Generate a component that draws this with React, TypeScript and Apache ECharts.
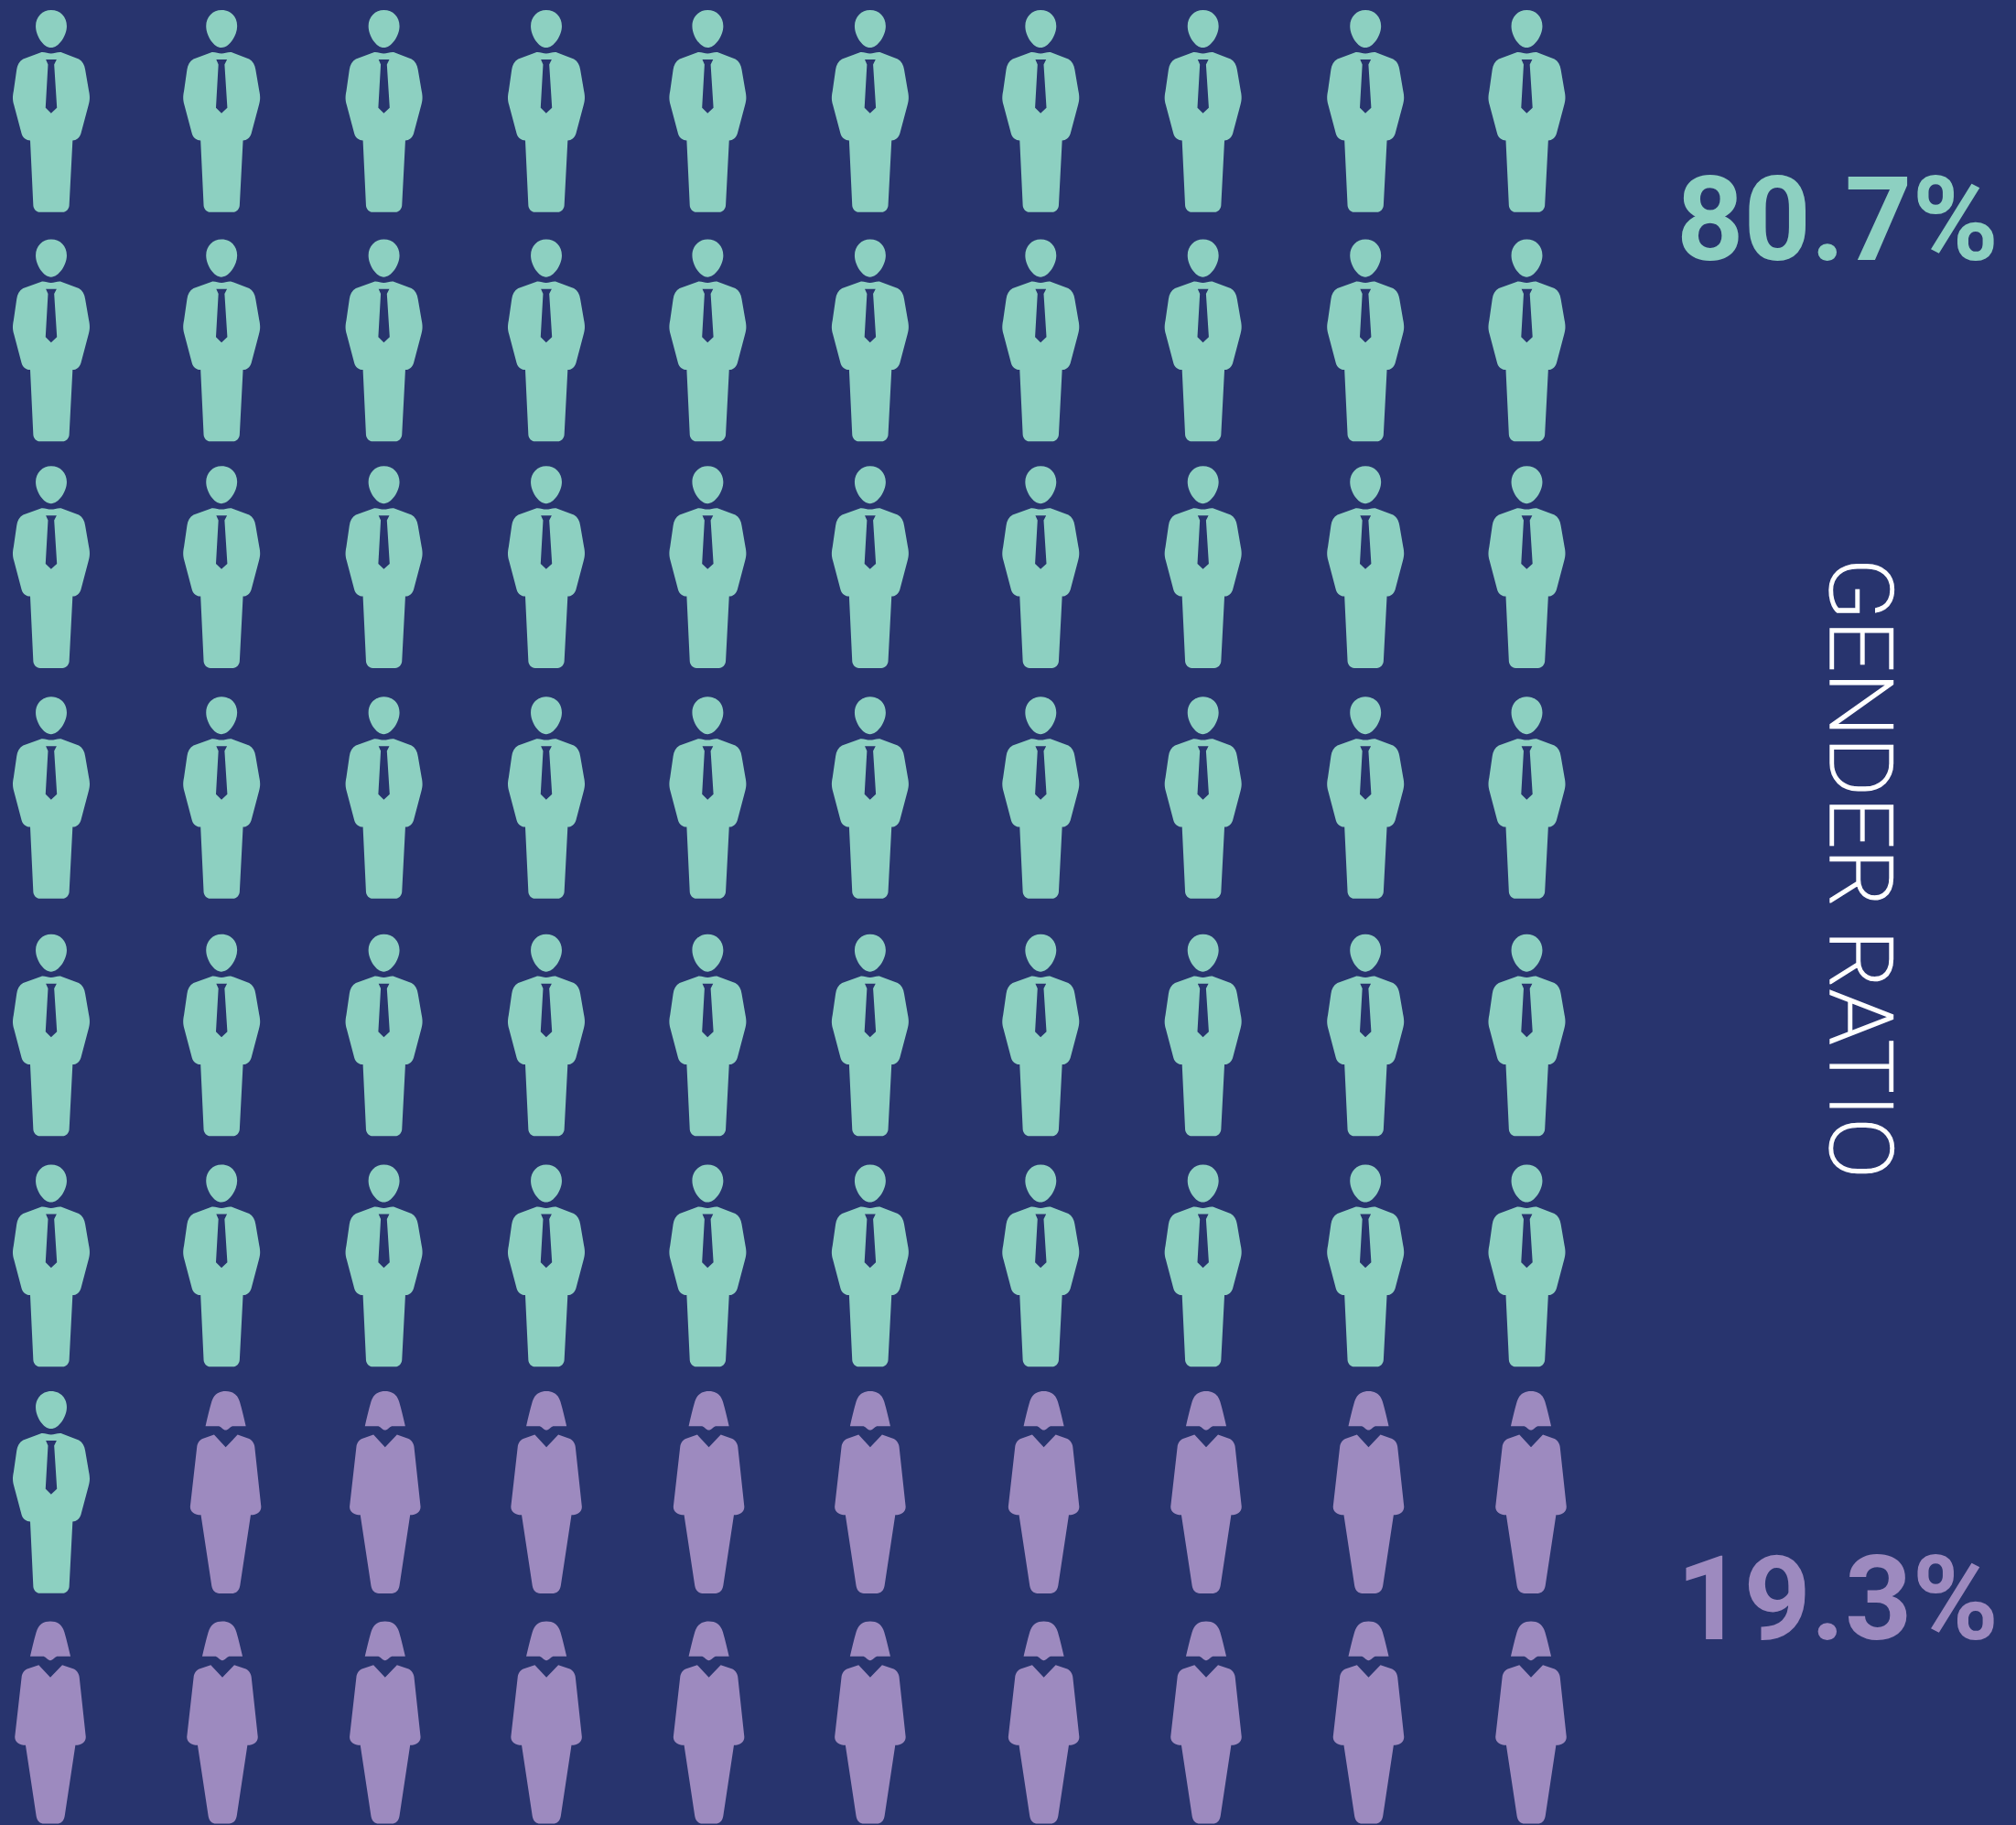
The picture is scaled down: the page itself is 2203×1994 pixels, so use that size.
import React, { useEffect, useRef } from "react";
import * as echarts from "echarts";

const columns = ["1", "2", "3", "4", "5", "6", "7", "8", "9", "10"];
const rows = ["1", "2", "3", "4", "5", "6", "7", "8"];
const menPerRow = [10, 10, 10, 10, 10, 10, 1, 0];
const womenPerRow = [0, 0, 0, 0, 0, 0, 9, 10];
const menShare = "80.7%";
const womenShare = "19.3%";
const sideTitle = "GENDER RATIO";

const MAN =
  "path://M168 30C198 30 219 52 219 82C219 115 192 153 168 153C144 153 118 115 118 82C118 52 140 30 168 30Z" +
  "M168 172C178 172 188 167 200 168L258 190C270 197 277 210 279 225L291 295C295 315 294 325 290 340L265 435C260 450 250 457 238 457L227 670C226 682 217 692 205 692L132 692C120 692 111 682 110 670L100 457C88 457 76 450 72 435L47 340C43 325 42 315 46 295L56 225C58 210 65 197 77 190L137 168C148 167 158 172 168 172Z" +
  "M151 192L158 208L150 350L168 368L187 350L178 208L186 192Z";
const WOMAN =
  "path://M168 57C195 57 208 72 214 92C222 120 228 145 234 172L190 172C182 174 176 185 168 185C160 185 154 174 146 172L102 172C108 145 114 120 122 92C128 72 141 57 168 57Z" +
  "M130 200L168 241L207 200L245 213C256 218 262 230 263 240L284 435C285 452 270 463 250 463L215 695C212 712 202 720 190 720L147 720C135 720 125 712 122 695L87 463C67 463 51 452 52 435L74 240C75 230 80 218 92 213Z";

const BG = "#28346e";
const MINT = "#8dd0c1";
const PURPLE = "#9d8abf";

// The icons sit on a slightly uneven layout: small per-column and per-row shifts off the even grid.
const manColumnShift = [0, 7, 5.2, 3.4, 0.6, -1.1, 6.1, 4.3, 2.6, -0.3];
const womanColumnShift = [-1, 7.8, 6.4, 3.5, 1.8, -1.1, 9.4, 7.6, 5.9, 4.2];
const rowShift = [0.4, -0.6, -4.6, -4.2, 3.7, 4.1, 0, 0];

function points(counts: number[], fromLeft: boolean, colShift: number[]) {
  const out: any[] = [];
  counts.forEach((n, r) => {
    for (let k = 0; k < n; k++) {
      const c = fromLeft ? k : columns.length - n + k;
      const dx = !fromLeft && r === 6 && c === 1 ? 11.4 : colShift[c];
      out.push({ value: [c, r], symbolOffset: [dx, rowShift[r]] });
    }
  });
  return out;
}

export default function App() {
  const ref = useRef<HTMLDivElement>(null);
  useEffect(() => {
    document.body.style.margin = "0";
    document.body.style.background = BG;
    const chart = echarts.init(ref.current!, undefined, { renderer: "svg" });
    chart.setOption({
      animation: false,
      backgroundColor: BG,
      grid: { left: 56, top: 121, width: 1612.8, height: 1761 },
      xAxis: { type: "category", data: columns, boundaryGap: false, show: false },
      yAxis: { type: "category", data: rows, boundaryGap: false, inverse: true, show: false },
      series: [
        {
          type: "scatter",
          name: "Men",
          symbol: MAN,
          symbolSize: [84, 220.7],
          itemStyle: { color: MINT, opacity: 1 },
          data: points(menPerRow, true, manColumnShift),
        },
        {
          type: "scatter",
          name: "Women",
          symbol: WOMAN,
          symbolSize: [77.5, 221],
          itemStyle: { color: PURPLE, opacity: 1 },
          data: points(womenPerRow, false, womanColumnShift),
        },
      ],
      graphic: [
        { type: "text", x: 2184, y: 304, style: { text: menShare, fill: MINT, font: "700 128px Roboto", align: "right", verticalAlign: "bottom" } },
        { type: "text", x: 2184, y: 1811, style: { text: womenShare, fill: PURPLE, font: "700 128px Roboto", align: "right", verticalAlign: "bottom" } },
        { type: "text", x: 2033, y: 948.5, rotation: -Math.PI / 2, scaleX: 1.03, style: { text: sideTitle, fill: "#ffffff", stroke: "#ffffff", lineWidth: 1.3, font: "200 97px Roboto", align: "center", verticalAlign: "middle" } },
      ],
    });
    return () => chart.dispose();
  }, []);
  return <div ref={ref} style={{ width: 2203, height: 1994 }} />;
}
